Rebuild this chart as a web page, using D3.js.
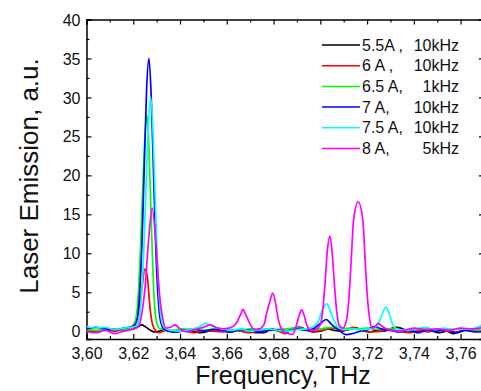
<!DOCTYPE html>
<html>
<head>
<meta charset="utf-8">
<script src="https://cdn.jsdelivr.net/npm/d3@7"></script>
<style>
  body { margin: 0; background: #fff; }
  svg { display: block; font-family: Arial, "Liberation Sans", sans-serif; }
</style>
</head>
<body>
<div id="chart"></div>
<script>
// spectra, [frequency THz, emission a.u.]
const black55 = [[3.600,0.2],[3.603,0.0],[3.606,0.1],[3.609,0.3],[3.612,0.2],[3.615,0.1],[3.618,0.2],[3.620,0.3],[3.622,0.6],[3.6236,0.8],[3.625,0.6],[3.627,0.2],[3.629,-0.1],[3.631,0.0],[3.634,0.2],[3.637,-0.1],[3.640,0.0],[3.643,0.2],[3.646,0.0],[3.649,-0.2],[3.652,0.0],[3.655,0.3],[3.658,0.1],[3.661,-0.1],[3.664,0.1],[3.667,0.2],[3.670,0.0],[3.673,-0.2],[3.676,-0.2],[3.679,0.3],[3.682,0.1],[3.685,0.0],[3.688,0.3],[3.691,0.5],[3.694,0.2],[3.697,-0.1],[3.700,0.0],[3.703,0.3],[3.706,0.1],[3.709,0.0],[3.712,0.2],[3.715,0.4],[3.718,0.1],[3.721,-0.1],[3.724,0.1],[3.727,0.0],[3.730,0.3],[3.733,0.5],[3.736,0.2],[3.739,0.0],[3.742,-0.1],[3.745,0.2],[3.748,0.0],[3.751,-0.2],[3.754,0.0],[3.757,-0.3],[3.760,0.0],[3.763,0.2],[3.766,0.0],[3.770,0.1]];
const red6 = [[3.600,0.1],[3.604,-0.1],[3.608,0.2],[3.612,0.0],[3.616,0.2],[3.618,0.3],[3.620,0.8],[3.622,2.0],[3.6235,5.0],[3.625,8.0],[3.6262,6.5],[3.627,3.5],[3.628,1.2],[3.629,0.3],[3.631,-0.2],[3.634,0.1],[3.637,-0.1],[3.640,0.2],[3.643,0.0],[3.646,-0.2],[3.650,0.1],[3.654,0.0],[3.658,-0.1],[3.662,0.2],[3.666,0.0],[3.670,-0.2],[3.674,0.1],[3.678,0.3],[3.682,0.0],[3.685,-0.3],[3.688,0.3],[3.691,0.5],[3.694,0.2],[3.698,0.0],[3.702,0.2],[3.706,0.4],[3.710,0.1],[3.714,0.5],[3.718,0.2],[3.722,-0.1],[3.726,0.0],[3.730,0.3],[3.734,0.0],[3.738,-0.2],[3.742,0.1],[3.746,-0.1],[3.750,0.2],[3.754,0.0],[3.758,-0.1],[3.762,0.1],[3.766,0.2],[3.770,0.0]];
const green65 = [[3.600,0.2],[3.605,0.1],[3.610,0.3],[3.615,0.2],[3.619,0.3],[3.621,1.5],[3.622,4.0],[3.623,10],[3.624,18],[3.625,25],[3.6257,27.8],[3.6265,25],[3.6275,16],[3.6285,7],[3.6295,2],[3.631,0.4],[3.633,0.2],[3.637,0.1],[3.641,0.3],[3.645,0.2],[3.650,0.1],[3.655,0.3],[3.660,0.2],[3.665,0.1],[3.670,0.3],[3.675,0.2],[3.680,0.1],[3.685,0.3],[3.690,0.4],[3.695,0.2],[3.700,0.3],[3.705,0.5],[3.710,0.4],[3.715,0.3],[3.720,0.4],[3.725,0.2],[3.730,0.3],[3.735,0.1],[3.740,0.2],[3.745,0.3],[3.750,0.1],[3.755,0.2],[3.760,0.3],[3.765,0.2],[3.770,0.1]];
const blue7 = [[3.600,0.3],[3.604,0.5],[3.608,0.3],[3.612,0.2],[3.616,0.4],[3.620,0.6],[3.6217,1.5],[3.6227,4.8],[3.6237,11],[3.6247,21],[3.6257,31],[3.6267,35],[3.6277,30],[3.6287,20],[3.6297,10],[3.6307,4],[3.6317,1.2],[3.633,0.3],[3.635,0.0],[3.638,-0.1],[3.642,0.1],[3.646,0.3],[3.650,0.0],[3.654,0.2],[3.658,0.1],[3.662,-0.1],[3.666,0.2],[3.670,0.1],[3.674,-0.1],[3.678,0.1],[3.682,0.2],[3.686,0.0],[3.690,0.3],[3.694,0.1],[3.697,0.3],[3.700,1.0],[3.7025,1.5],[3.705,0.8],[3.708,0.1],[3.711,-0.45],[3.714,-0.3],[3.717,0.0],[3.720,0.2],[3.723,0.6],[3.726,0.3],[3.730,0.1],[3.734,-0.1],[3.738,0.1],[3.742,-0.2],[3.746,0.2],[3.750,0.0],[3.754,0.2],[3.758,-0.2],[3.762,0.1],[3.766,-0.1],[3.770,0.0]];
const cyan75 = [[3.600,0.6],[3.604,0.4],[3.608,0.5],[3.612,0.2],[3.616,0.4],[3.619,0.5],[3.621,0.6],[3.6224,1.5],[3.6234,4],[3.6244,9.5],[3.6254,18],[3.6264,26],[3.6274,30],[3.6284,26],[3.6294,17],[3.6304,8.5],[3.6314,3.2],[3.6324,1.0],[3.634,0.3],[3.636,0.1],[3.640,0.0],[3.645,0.3],[3.648,0.5],[3.651,1.0],[3.654,0.6],[3.658,0.3],[3.662,0.1],[3.666,0.3],[3.670,0.0],[3.674,0.2],[3.678,0.3],[3.682,0.1],[3.686,0.0],[3.690,0.2],[3.694,0.3],[3.697,0.6],[3.699,1.2],[3.701,2.8],[3.7028,3.5],[3.704,2.8],[3.706,1.3],[3.708,0.4],[3.711,0.2],[3.714,0.3],[3.717,0.2],[3.721,0.3],[3.724,0.6],[3.726,1.8],[3.728,3.1],[3.7295,2.2],[3.731,0.8],[3.733,0.2],[3.737,0.1],[3.741,0.3],[3.745,0.5],[3.749,0.2],[3.753,0.4],[3.757,0.2],[3.761,0.3],[3.765,0.3],[3.768,0.6],[3.770,0.9]];
const magenta8 = [[3.600,0.0],[3.604,-0.2],[3.608,0.1],[3.612,-0.3],[3.616,0.0],[3.619,0.2],[3.622,0.5],[3.6235,2],[3.625,5.5],[3.6265,11.5],[3.6281,15.8],[3.6295,12],[3.631,5.5],[3.6325,1.8],[3.634,0.4],[3.636,0.5],[3.6378,0.8],[3.640,0.3],[3.643,-0.1],[3.646,0.2],[3.650,0.5],[3.653,0.8],[3.656,0.4],[3.659,0.3],[3.662,0.5],[3.664,1.0],[3.666,2.2],[3.667,2.8],[3.668,2.2],[3.670,0.9],[3.672,0.2],[3.674,0.3],[3.676,0.9],[3.677,2.25],[3.6786,4.0],[3.6796,4.9],[3.6806,4.0],[3.6816,2.25],[3.6826,0.85],[3.684,0.1],[3.686,-0.3],[3.688,-0.4],[3.690,1.0],[3.691,2.1],[3.692,2.75],[3.693,2.1],[3.694,1.0],[3.696,0.1],[3.698,0.2],[3.700,0.8],[3.701,2.6],[3.702,6.1],[3.703,10.3],[3.7041,12.2],[3.705,10.3],[3.706,6.1],[3.707,2.6],[3.708,0.8],[3.7096,0.4],[3.7112,1.4],[3.7122,4.1],[3.7132,9.0],[3.7142,14.2],[3.7162,16.6],[3.7182,14.2],[3.7192,9.0],[3.7202,4.1],[3.7212,1.4],[3.7222,0.4],[3.7235,0.6],[3.7246,1.0],[3.7265,0.6],[3.729,0.2],[3.734,0.0],[3.740,0.4],[3.745,0.2],[3.750,0.3],[3.755,0.1],[3.760,0.4],[3.765,0.3],[3.770,0.5]];

const seriesNames = ['5.5A ,', '6 A ,', '6.5 A,', '7 A,', '7.5 A,', '8 A,'];
const seriesRates = ['10kHz', '10kHz', '1kHz', '10kHz', '10kHz', '5kHz'];
const seriesColors = ['#000000', '#ff0000', '#00ff00', '#0000ff', '#00ffff', '#ff00ff'];
const seriesData = [black55, red6, green65, blue7, cyan75, magenta8];

const yTicks = [0, 5, 10, 15, 20, 25, 30, 35, 40];
const xTicks = [3.60, 3.62, 3.64, 3.66, 3.68, 3.70, 3.72, 3.74, 3.76];

const W = 481, H = 391;
const margin = {top: 19.5, right: -3, bottom: 52, left: 86.5};
const width = W - margin.left - margin.right,
  height = H - margin.top - margin.bottom;

const x = d3.scaleLinear().domain([3.60, 3.77]).range([0, width]);
const y = d3.scaleLinear().domain([-1, 40]).range([height, 0]);

const svg = d3.select('#chart').append('svg')
  .attr('width', W).attr('height', H);

svg.append('defs').append('clipPath').attr('id', 'clip')
  .append('rect').attr('width', width).attr('height', height);

const g = svg.append('g').attr('transform', `translate(${margin.left},${margin.top})`);

const fmt = d => d3.format('.2f')(d).replace('.', ',');
const xMinor = d3.range(3.61, 3.771, 0.02);
const yMinor = d3.range(2.5, 40, 5);

// minor ticks first, then major axes on top
const minorTick = (sel, axis) => sel.call(axis.tickSize(-3).tickFormat(''))
  .call(s => s.select('.domain').remove());
g.append('g').attr('transform', `translate(0,${height})`).call(minorTick, d3.axisBottom(x).tickValues(xMinor));
g.append('g').call(minorTick, d3.axisTop(x).tickValues(xMinor));
g.append('g').call(minorTick, d3.axisLeft(y).tickValues(yMinor));
g.append('g').attr('transform', `translate(${width},0)`).call(minorTick, d3.axisRight(y).tickValues(yMinor));

g.append('g').attr('transform', `translate(0,${height})`)
  .call(d3.axisBottom(x).tickValues(xTicks).tickSize(-5).tickPadding(9).tickFormat(fmt));
g.append('g').call(d3.axisTop(x).tickValues(xTicks).tickSize(-5).tickFormat(''));
const yAxis = g.append('g')
  .call(d3.axisLeft(y).tickValues(yTicks).tickSize(-5).tickPadding(6));
g.append('g').attr('transform', `translate(${width},0)`)
  .call(d3.axisRight(y).tickValues(yTicks).tickSize(-5).tickFormat(''));

g.selectAll('.domain').attr('stroke', '#000').attr('stroke-width', 1.5);
g.selectAll('.tick line').attr('stroke', '#000').attr('stroke-width', 1.2);
g.selectAll('.tick text').attr('font-size', 16).attr('fill', '#111')
  .attr('font-family', 'Arial, "Liberation Sans", sans-serif');
yAxis.selectAll('.tick text').attr('dy', '0.35em');

const line = d3.line()
  .x(d => x(d[0]))
  .y(d => y(d[1]))
  .curve(d3.curveMonotoneX);

g.append('g').attr('clip-path', 'url(#clip)')
  .selectAll('path')
  .data(seriesData)
  .enter().append('path')
  .attr('d', line)
  .attr('fill', 'none')
  .attr('stroke', (d, i) => seriesColors[i])
  .attr('stroke-width', 1.7)
  .attr('stroke-linejoin', 'round');

// legend
const legend = svg.append('g');
seriesNames.forEach((name, i) => {
  const ly = 45 + i * 20.7;
  legend.append('line').attr('x1', 322).attr('x2', 360).attr('y1', ly).attr('y2', ly)
    .attr('stroke', seriesColors[i]).attr('stroke-width', 1.5);
  legend.append('text').attr('x', 362).attr('y', ly).attr('dy', '0.35em')
    .attr('font-size', 16).attr('fill', '#111').text(name);
  legend.append('text').attr('x', 459).attr('y', ly).attr('dy', '0.35em')
    .attr('text-anchor', 'end')
    .attr('font-size', 16).attr('fill', '#111').text(seriesRates[i]);
});

// axis titles
svg.append('text')
  .attr('transform', 'translate(29,176) rotate(-90)')
  .attr('text-anchor', 'middle').attr('dy', '0.35em')
  .attr('font-size', 26).attr('fill', '#111')
  .text('Laser Emission, a.u.');
svg.append('text')
  .attr('x', 283).attr('y', 384)
  .attr('text-anchor', 'middle')
  .attr('font-size', 25).attr('fill', '#111')
  .text('Frequency, THz');
</script>
</body>
</html>
